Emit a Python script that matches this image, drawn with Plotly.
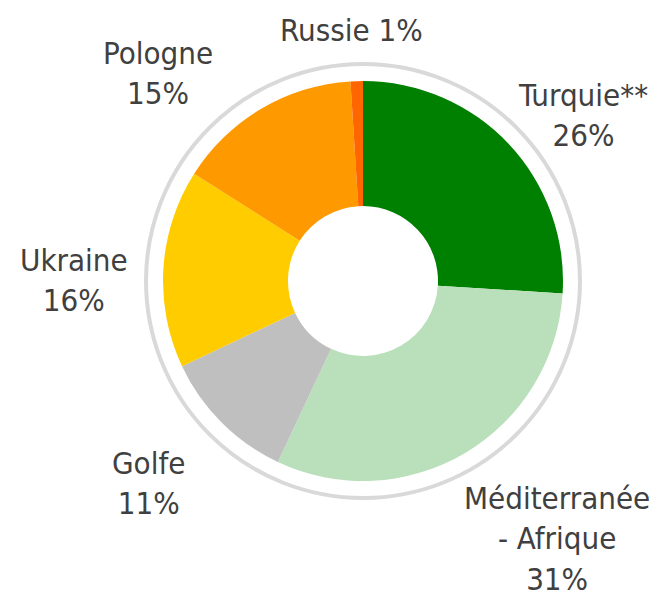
import plotly.graph_objects as go

# The page body has an 8px margin, so the figure is drawn at an 8px offset.
OFF = 8
W, H = 661 - OFF, 598 - OFF

categories = ["Turquie**", "Méditerranée - Afrique", "Golfe", "Ukraine", "Pologne", "Russie"]
values = [26, 31, 11, 16, 15, 1]
colors = ["#008000", "#b9dfbb", "#bfbfbf", "#ffcc00", "#ff9900", "#ff6600"]
label_texts = ["Turquie**<br>26%", "Méditerranée<br>- Afrique<br>31%", "Golfe<br>11%",
               "Ukraine<br>16%", "Pologne<br>15%", "Russie 1%"]
# label centres in window pixels
label_px = [(583, 115), (557, 538), (148, 483), (74, 280), (158, 73), (351, 30)]

cx, cy, R = 363 - OFF, 281 - OFF, 200

fig = go.Figure()
fig.add_trace(go.Pie(
    labels=categories, values=values, sort=False, direction="clockwise", rotation=0,
    hole=0.375, marker=dict(colors=colors, line=dict(width=0)),
    textinfo="none", hoverinfo="label+percent", showlegend=False,
    domain=dict(x=[(cx - R) / W, (cx + R) / W], y=[1 - (cy + R) / H, 1 - (cy - R) / H]),
))

ring_r = 217
fig.add_shape(type="circle", xref="paper", yref="paper",
              x0=(cx - ring_r) / W, x1=(cx + ring_r) / W,
              y0=1 - (cy + ring_r) / H, y1=1 - (cy - ring_r) / H,
              line=dict(color="#d9d9d9", width=4), layer="below")

font_family = "Liberation Sans Narrow, Arial Narrow, DejaVu Sans Condensed, sans-serif"
for t, (px, py) in zip(label_texts, label_px):
    fig.add_annotation(text=t, x=(px - OFF) / W, y=1 - (py - OFF) / H, xref="paper", yref="paper",
                       xanchor="center", yanchor="middle", showarrow=False, align="center",
                       font=dict(family=font_family, size=31, color="#404040"))

fig.update_layout(width=W, height=H, margin=dict(l=0, r=0, t=0, b=0),
                  paper_bgcolor="white", plot_bgcolor="white")
fig.write_html("out.html")
